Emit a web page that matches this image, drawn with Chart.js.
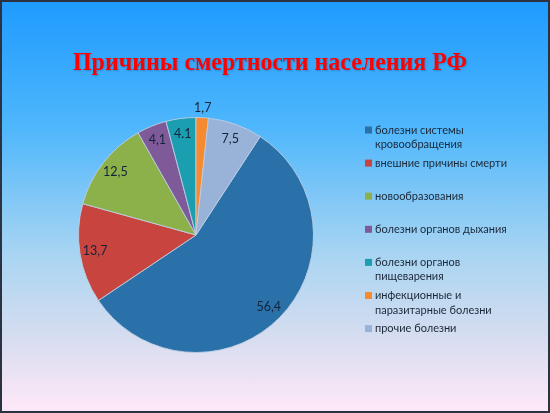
<!DOCTYPE html>
<html lang="ru">
<head>
    <meta charset="UTF-8">
    <title>Причины смертности населения РФ</title>
    <script src="https://cdn.jsdelivr.net/npm/chart.js"></script>
    <style>
        html, body {
            margin: 0;
            padding: 0;
        }
        .slide {
            position: relative;
            width: 550px;
            height: 413px;
            box-sizing: border-box;
            border: 2px solid #2b3241;
            background: linear-gradient(to bottom, #1f9bff 0%, #4db6fc 30%, #a9d5f2 62%, #d6ddf0 82%, #ffe8f8 100%);
            overflow: hidden;
        }
        canvas {
            position: absolute;
            left: -2px;
            top: -2px;
        }
    </style>
</head>
<body>
    <div class="slide">
        <canvas id="pieChart" width="550" height="413"></canvas>
    </div>
    <script>
        const title = 'Причины смертности населения РФ';
        const categories = [
            ['болезни системы', 'кровообращения'],
            ['внешние причины смерти'],
            ['новообразования'],
            ['болезни органов дыхания'],
            ['болезни органов', 'пищеварения'],
            ['инфекционные и', 'паразитарные болезни'],
            ['прочие болезни']
        ];
        const values = [56.4, 13.7, 12.5, 4.1, 4.1, 1.7, 7.5];
        const valueLabels = ['56,4', '13,7', '12,5', '4,1', '4.1', '1,7', '7,5'];
        const colors = ['#2a71a9', '#c8443f', '#8db14a', '#7e5b98', '#1b9fb0', '#f7892f', '#98b3d7'];

        const titleFont = 'bold 26px "Liberation Serif"';
        const textFont = 'Lato';

        // slide title, centred on the slide (not the chart area); a bit condensed like the original
        const slideTitle = {
            id: 'slideTitle',
            afterDraw(chart) {
                const ctx = chart.ctx;
                ctx.save();
                ctx.font = titleFont + ', serif';
                ctx.fillStyle = '#ff0000';
                ctx.textAlign = 'center';
                ctx.textBaseline = 'alphabetic';
                ctx.shadowColor = 'rgba(0,0,0,0.2)';
                ctx.shadowOffsetX = 1;
                ctx.shadowOffsetY = 1;
                ctx.shadowBlur = 2;
                ctx.fillText(title, 270, 69.5, 394);
                ctx.restore();
            }
        };

        // data labels on the slices, small slices get the label outside
        const sliceLabels = {
            id: 'sliceLabels',
            afterDatasetsDraw(chart) {
                const ctx = chart.ctx;
                const meta = chart.getDatasetMeta(0);
                ctx.save();
                ctx.font = '12.5px ' + textFont + ', sans-serif';
                ctx.fillStyle = '#14233a';
                ctx.textAlign = 'center';
                ctx.textBaseline = 'middle';
                meta.data.forEach((arc, i) => {
                    const mid = (arc.startAngle + arc.endAngle) / 2;
                    const f = values[i] < 3 ? 1.08 : 0.87;
                    const r = arc.outerRadius * f;
                    ctx.fillText(valueLabels[i], arc.x + Math.cos(mid) * r, arc.y + Math.sin(mid) * r);
                });
                ctx.restore();
            }
        };

        // legend at the right, entries spaced evenly
        const sideLegend = {
            id: 'sideLegend',
            afterDraw(chart) {
                const ctx = chart.ctx;
                const x = 365, y0 = 130, step = 33.1, lineH = 14.5;
                ctx.save();
                ctx.font = '11px ' + textFont + ', sans-serif';
                ctx.textBaseline = 'middle';
                ctx.textAlign = 'left';
                categories.forEach((lines, i) => {
                    const y = y0 + i * step;
                    ctx.fillStyle = colors[i];
                    ctx.fillRect(x, y - 3.5, 7, 7);
                    ctx.fillStyle = '#1b2838';
                    lines.forEach((t, j) => ctx.fillText(t, x + 10, y + j * lineH));
                });
                ctx.restore();
            }
        };

        function draw() {
            new Chart(document.getElementById('pieChart'), {
                type: 'pie',
                data: {
                    labels: categories.map(c => c.join(' ')),
                    datasets: [{
                        data: values,
                        backgroundColor: colors,
                        borderColor: 'rgba(190,205,225,0.9)',
                        borderWidth: 1
                    }]
                },
                options: {
                    responsive: false,
                    animation: false,
                    rotation: 33.1,
                    layout: {
                        padding: { left: 78, right: 236, top: 117, bottom: 60 }
                    },
                    plugins: {
                        legend: { display: false },
                        tooltip: { enabled: false },
                        title: { display: false }
                    }
                },
                plugins: [sliceLabels, sideLegend, slideTitle]
            });
        }

        Promise.all([
            document.fonts.load(titleFont, title),
            document.fonts.load('11px ' + textFont, 'болезни 56,4')
        ]).then(draw, draw);
    </script>
</body>
</html>
